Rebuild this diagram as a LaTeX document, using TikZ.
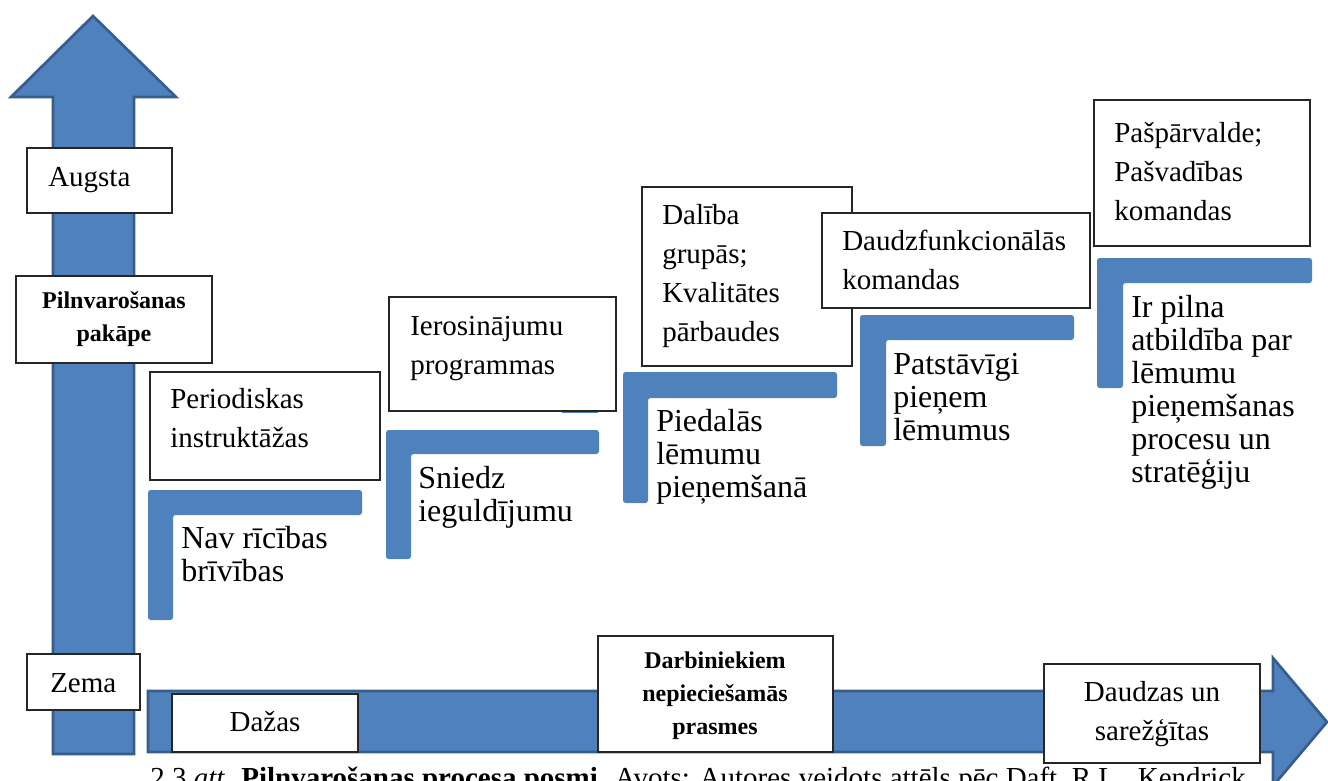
\documentclass[tikz,border=0pt]{standalone}
\usepackage{fontspec}
\setmainfont{Liberation Serif}
\usetikzlibrary{fit}
\definecolor{ablue}{HTML}{4F81BD}
\definecolor{aedge}{HTML}{385D8A}
\tikzset{
  bigarrow/.style={fill=ablue, draw=aedge, line width=2pt, line join=miter},
  bracketshape/.style={fill=ablue, rounded corners=2pt},
  whitebox/.style={draw=black!85, line width=1.1pt, fill=white, inner sep=0pt},
  boxtext/.style={anchor=base west, inner sep=0pt, align=left, font=\fontsize{21.75}{28.9}\selectfont},
  ctrtext/.style={anchor=base, inner sep=0pt, align=center, font=\fontsize{21.75}{29.2}\selectfont},
  brtext/.style={anchor=base west, inner sep=0pt, align=left, font=\fontsize{24}{24.75}\selectfont},
  boldtext/.style={anchor=base, inner sep=0pt, align=center, font=\bfseries\fontsize{18}{24.4}\selectfont},
}
\begin{document}
\begin{tikzpicture}[x=0.75pt, y=-0.75pt]
\useasboundingbox (0,0) rectangle (1328,781);
\clip (0,0) rectangle (1328,781);
\fill[white] (0,0) rectangle (1328,781);
% axes arrows
\draw[bigarrow] (53,754) -- (53,97) -- (11,97) -- (93,16) -- (176,97) -- (134,97) -- (134,754) -- cycle;
\draw[bigarrow] (148,691) -- (1273,691) -- (1273,658) -- (1327,722) -- (1273,786) -- (1273,752) -- (148,752) -- cycle;
% small hidden piece behind box
\fill[ablue] (562,404) rectangle (598,413);
% brackets
\fill[bracketshape] (148,490) -- (362,490) -- (362,515) -- (173,515) -- (173,620) -- (148,620) -- cycle;
\fill[bracketshape] (386,430) -- (599,430) -- (599,454) -- (411,454) -- (411,559) -- (386,559) -- cycle;
\fill[bracketshape] (623,372) -- (837,372) -- (837,398) -- (648,398) -- (648,503) -- (623,503) -- cycle;
\fill[bracketshape] (860,315) -- (1074,315) -- (1074,340) -- (886,340) -- (886,446) -- (860,446) -- cycle;
\fill[bracketshape] (1097,258) -- (1312,258) -- (1312,283) -- (1123,283) -- (1123,388) -- (1097,388) -- cycle;
% bracket texts (anchor = baseline of last line)
\node[brtext] (t1) at (181,581) {Nav rīcības\\brīvības};
\node[brtext] (t2) at (418,521) {Sniedz\\ieguldījumu};
\node[brtext] (t3) at (656,497) {Piedalās\\lēmumu\\pieņemšanā};
\node[brtext] (t4) at (893,440) {Patstāvīgi\\pieņem\\lēmumus};
\node[brtext] (t5) at (1131,482) {Ir pilna\\atbildība par\\lēmumu\\pieņemšanas\\procesu un\\stratēģiju};
% white boxes
\node[whitebox, fit={(150,372) (380,480)}] (b1) {};
\node[boxtext] (b1t) at (170,447.5) {Periodiskas\\instruktāžas};
\node[whitebox, fit={(389,297) (616,411)}] (b2) {};
\node[boxtext] (b2t) at (410,374.5) {Ierosinājumu\\programmas};
\node[whitebox, fit={(642,187) (852,366)}] (b3) {};
\node[boxtext, font=\fontsize{21.75}{29.2}\selectfont] (b3t) at (662,341.5) {Dalība\\grupās;\\Kvalitātes\\pārbaudes};
\node[whitebox, fit={(822,213) (1090,308)}] (b4) {};
\node[boxtext] (b4t) at (842,289.5) {Daudzfunkcionālās\\komandas};
\node[whitebox, fit={(1094,100) (1310,246)}] (b5) {};
\node[boxtext] (b5t) at (1114,220) {Pašpārvalde;\\Pašvadības\\komandas};
% axis labels
\node[whitebox, fit={(27,148) (172,213)}] (hi) {};
\node[boxtext] (hit) at (48,186) {Augsta};
\node[whitebox, fit={(16,276) (212,363)}] (ya) {};
\node[boldtext] (yat) at (114,341.5) {Pilnvarošanas\\pakāpe};
\node[whitebox, fit={(27,654) (140,710)}] (lo) {};
\node[boxtext] (lot) at (50,692) {Zema};
\node[whitebox, fit={(172,694) (358,752)}] (few) {};
\node[ctrtext] (fewt) at (265,731) {Dažas};
\node[whitebox, fit={(598,636) (833,752)}] (xa) {};
\node[boldtext] (xat) at (715,734) {Darbiniekiem\\nepieciešamās\\prasmes};
\node[whitebox, fit={(1044,664) (1260,763)}] (many) {};
\node[ctrtext] (manyt) at (1152,740) {Daudzas un\\sarežģītas};
% caption
\node[anchor=base west, inner sep=0pt, font=\fontsize{21.75}{26}\selectfont] (cap) at (150,787) {2.3 \textit{att.} \textbf{Pilnvarošanas procesa posmi.} Avots: Autores veidots attēls pēc Daft, R.L., Kendrick};
\end{tikzpicture}
\end{document}
